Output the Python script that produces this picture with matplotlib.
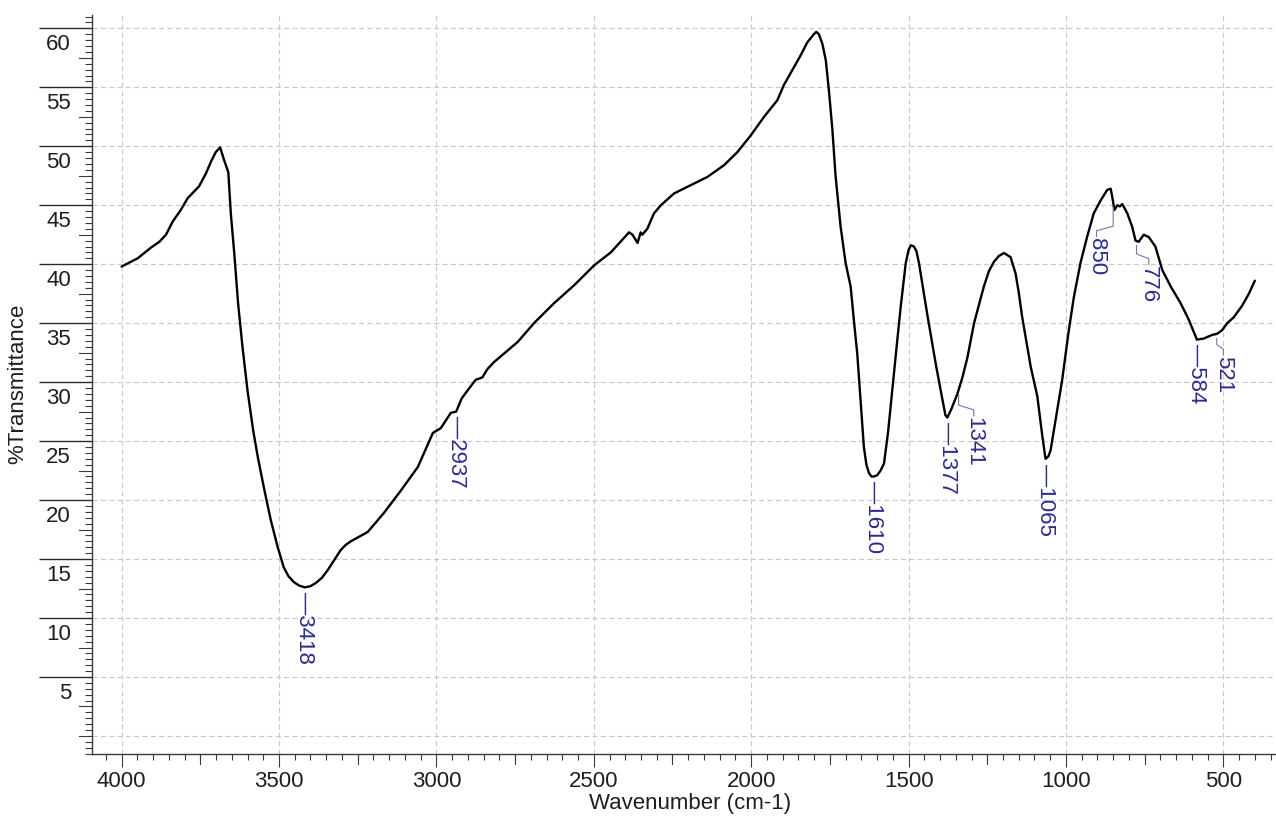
import matplotlib.pyplot as plt
import numpy as np
from matplotlib.ticker import FixedLocator, NullFormatter

plt.rcParams["font.family"] = ["Liberation Sans", "DejaVu Sans"]

# FTIR spectrum, wavenumber (cm-1) vs %T
wavenumber = [
    4000, 3949, 3907, 3880, 3859, 3838, 3812, 3790, 3754, 3732, 3716, 3701,
    3687, 3674, 3661, 3653, 3642, 3630, 3616, 3600, 3582, 3567, 3546, 3526,
    3505, 3485, 3470, 3453, 3436, 3418, 3400, 3383, 3364, 3345, 3325, 3304,
    3288, 3272, 3245, 3218, 3167, 3113, 3059, 3011, 2986,
    2954, 2937, 2920, 2901, 2875, 2854, 2838, 2817, 2742, 2690, 2626, 2563,
    2499, 2446, 2388, 2377, 2361, 2351, 2346, 2330, 2309, 2287, 2245, 2192,
    2139, 2086, 2044, 2002, 1959, 1917, 1896, 1864, 1843, 1822, 1801, 1793,
    1785, 1774, 1763, 1753, 1742, 1732, 1716, 1700, 1684, 1674, 1663, 1652,
    1642, 1634, 1626, 1618, 1610, 1600, 1589, 1578, 1565, 1552, 1538, 1525,
    1509, 1500, 1493, 1483, 1475, 1467, 1441, 1414,
    1398, 1383, 1377, 1366, 1345, 1329, 1313, 1292, 1261, 1245, 1229, 1213,
    1197, 1176, 1160, 1150, 1139, 1112, 1091, 1075, 1065, 1056, 1049, 1033,
    1012, 991, 975, 954, 933, 912, 890, 869, 858, 853, 846, 837,
    829, 821, 805, 790, 779, 769, 753, 737, 716, 694, 667, 636,
    610, 584, 562, 536, 520, 504, 488, 467, 440, 419, 400,
]
transmittance = [
    39.8, 40.5, 41.4, 41.9, 42.5, 43.6, 44.6, 45.6, 46.6, 47.7, 48.7, 49.5,
    49.9, 48.8, 47.8, 44.3, 40.9, 36.7, 33.0, 29.3, 25.9, 23.6, 20.8, 18.3,
    16.1, 14.3, 13.55, 13.05, 12.75, 12.6, 12.7, 12.97, 13.4, 14.07, 14.9, 15.76,
    16.2, 16.5, 16.9, 17.3, 18.9, 20.8, 22.8, 25.7, 26.1,
    27.4, 27.5, 28.6, 29.3, 30.2, 30.4, 31.1, 31.7, 33.4, 35.0, 36.7, 38.2,
    39.9, 41.0, 42.7, 42.5, 41.8, 42.7, 42.5, 43.0, 44.3, 45.0, 46.0, 46.7,
    47.4, 48.4, 49.5, 50.9, 52.5, 53.9, 55.2, 56.7, 57.7, 58.8, 59.5, 59.7,
    59.5, 58.7, 57.3, 54.7, 51.4, 47.5, 43.2, 40.1, 38.1, 35.3, 32.4, 28.2,
    24.5, 23.0, 22.3, 22.0, 22.0, 22.1, 22.5, 23.1, 25.8, 29.3, 33.0, 36.4,
    40.1, 41.2, 41.6, 41.5, 41.1, 40.1, 35.8, 31.6,
    29.3, 27.2, 27.0, 27.6, 29.0, 30.4, 32.1, 35.0, 38.1, 39.4, 40.2, 40.7,
    40.95, 40.6, 39.2, 37.6, 35.5, 31.3, 28.8, 25.4, 23.5, 23.7, 24.2, 26.8,
    30.2, 34.4, 37.2, 40.1, 42.3, 44.3, 45.4, 46.3, 46.4, 45.7, 44.6, 45.0,
    44.9, 45.1, 44.3, 43.2, 42.0, 41.9, 42.5, 42.3, 41.5, 39.5, 38.1, 36.7,
    35.3, 33.6, 33.7, 34.0, 34.1, 34.4, 35.0, 35.5, 36.5, 37.5, 38.6,
]

peak_positions = [3418, 2937, 1610, 1377, 1341, 1065, 850, 776, 584, 521]
peak_labels = ["3418", "2937", "1610", "1377", "1341", "1065", "850", "776", "584", "521"]

# labels shifted sideways get a bent leader: (text x, drop below curve)
shifted = {1341: (1293, 2.2), 850: (903, 2.9), 776: (737, 2.0), 521: (500, 1.8)}

W, H = 1276, 821
fig = plt.figure(figsize=(W / 100, H / 100), dpi=100)
left, right, bottom, top = 92, 1275, 754, 15
ax = fig.add_axes([left / W, 1 - bottom / H, (right - left) / W, (bottom - top) / H])

wn = np.array(wavenumber)
tr = np.array(transmittance)
ax.plot(wn, tr, color="black", lw=1.7, zorder=3,
        solid_joinstyle="round", solid_capstyle="round")

ax.set_xlim(4094, 336)
ax.set_ylim(-1.53, 61.13)

grid_kw = dict(color="#c8c8c8", lw=0.8, dashes=(4.5, 3), zorder=1)
for v in range(500, 4001, 500):
    ax.axvline(v, **grid_kw)
for v in range(0, 61, 5):
    ax.axhline(v, **grid_kw)

for side in ("top", "right"):
    ax.spines[side].set_visible(False)
for side in ("left", "bottom"):
    ax.spines[side].set_color("#3a3a3a")
    ax.spines[side].set_linewidth(1.0)

# x ticks: long every 500, medium every 250, short every 50
ax.xaxis.set_major_locator(FixedLocator(np.arange(500, 4001, 500)))
ax.xaxis.set_minor_locator(FixedLocator([v for v in np.arange(350, 4051, 50) if v % 500]))
ax.tick_params(axis="x", which="major", length=9.4, width=0.8, color="#3a3a3a",
               labelsize=16, pad=2.5, labelcolor="#1e1e1e")
ax.tick_params(axis="x", which="minor", length=4.3, width=0.8, color="#3a3a3a")
xt = ax.get_xaxis_transform()
px_y = 1.0 / (bottom - top)
for v in np.arange(750, 4001, 500):
    ax.plot([v, v], [0, -10 * px_y], transform=xt, color="#3a3a3a", lw=0.8, clip_on=False)

# y ticks: long every 5 (labelled), medium every 2.5, short every 0.5
ax.yaxis.set_major_locator(FixedLocator(np.arange(5, 61, 5)))
ax.yaxis.set_major_formatter(NullFormatter())
ax.yaxis.set_minor_locator(FixedLocator([v for v in np.arange(-1.5, 61.01, 0.5) if v % 2.5]))
ax.tick_params(axis="y", which="major", length=38, width=1.0, color="#2a2a2a")
ax.tick_params(axis="y", which="minor", length=5, width=0.8, color="#3a3a3a")
yt = ax.get_yaxis_transform()
px_x = 1.0 / (right - left)
for v in np.arange(0, 61, 2.5):
    if v % 5 or v == 0:
        ax.plot([0, -13 * px_x], [v, v], transform=yt, color="#3a3a3a", lw=0.8, clip_on=False)
for v in range(5, 61, 5):
    ax.annotate(str(v), xy=(0, v), xycoords=yt, xytext=(-21, -22), textcoords="offset pixels",
                ha="right", va="baseline", fontsize=16, color="#1e1e1e")

fig.text(690 / W, 1 - 803 / H, "Wavenumber (cm-1)", ha="center", va="center",
         fontsize=16, color="#1e1e1e")
fig.text(18 / W, 1 - 384 / H, "%Transmittance", ha="center", va="center",
         rotation=90, fontsize=16, color="#1e1e1e")

# peak annotations
label_color = "#2a2a96"
leader_color = "#7474b8"
order = np.argsort(wn)
for pos, lab in zip(peak_positions, peak_labels):
    y_curve = np.interp(pos, wn[order], tr[order])
    if pos in shifted:
        tx, drop = shifted[pos]
        ax.plot([pos, pos, tx, tx],
                [y_curve - 0.4, y_curve - drop + 0.9, y_curve - drop + 0.5, y_curve - drop],
                color=leader_color, lw=0.8, zorder=4)
        ax.text(tx, y_curve - drop - 0.1, lab, rotation=270, ha="center", va="top",
                fontsize=16, color=label_color, zorder=4)
    else:
        ax.text(pos, y_curve - 0.4, "\u2014" + lab, rotation=270, ha="center", va="top",
                fontsize=16, color=label_color, zorder=4)

fig.savefig("out.png", dpi=100)
